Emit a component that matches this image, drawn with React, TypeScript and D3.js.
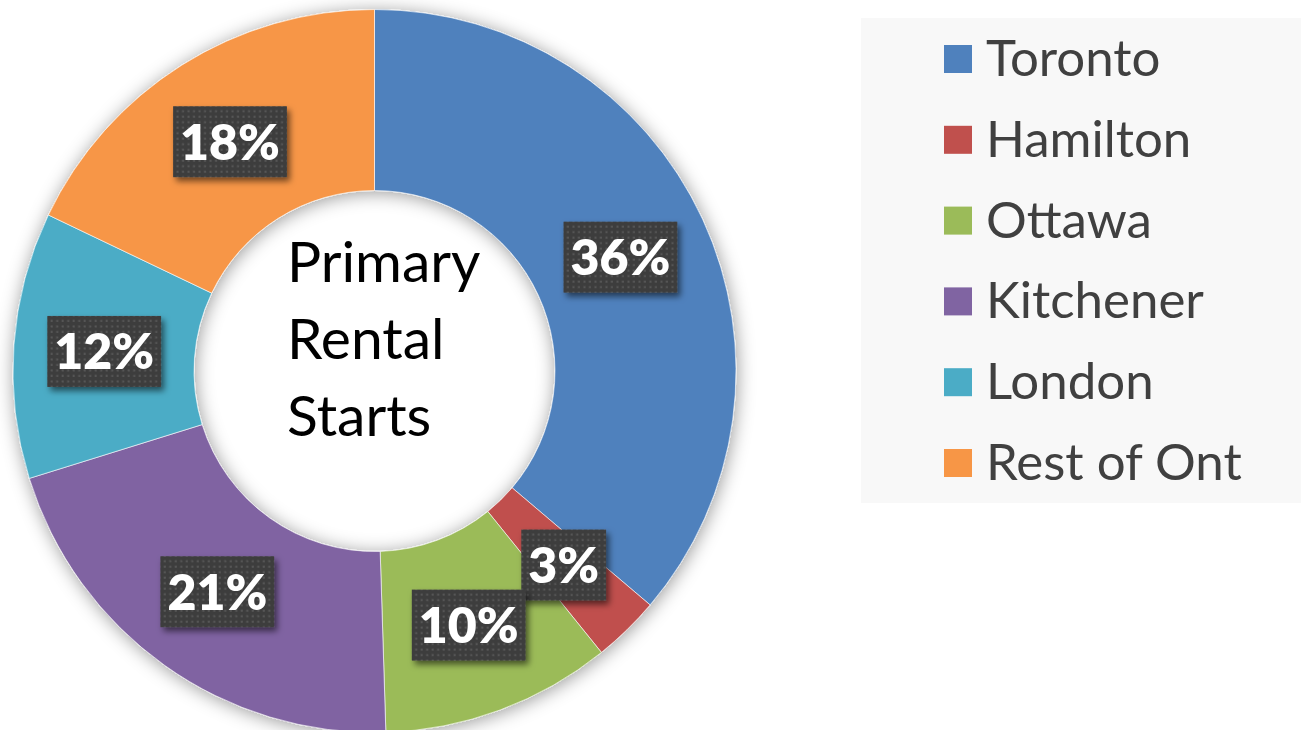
import React, { useEffect, useRef } from "react";
import * as d3 from "d3";

// shares of primary rental starts
const categories = ["Toronto", "Hamilton", "Ottawa", "Kitchener", "London", "Rest of Ont"];
const shares = [36.2, 3.0, 10.3, 20.7, 11.9, 17.9];
const labels = ["36%", "3%", "10%", "21%", "12%", "18%"];
const colors = ["#4F81BD", "#C0504D", "#9BBB59", "#8064A2", "#4BACC6", "#F79646"];
const centerLines = ["Primary", "Rental", "Starts"];

const App = () => {
  const ref = useRef<SVGSVGElement | null>(null);

  useEffect(() => {
    document.body.style.margin = "0";
    const svg = d3.select(ref.current);
    svg.selectAll("*").remove();

    const cx = 374.5;
    const cy = 371;
    const outerRadius = 361.5;
    const innerRadius = 180.5;

    const defs = svg.append("defs");

    const ringShadow = defs
      .append("filter")
      .attr("id", "ringShadow")
      .attr("x", "-20%")
      .attr("y", "-20%")
      .attr("width", "140%")
      .attr("height", "140%");
    ringShadow
      .append("feDropShadow")
      .attr("dx", 1)
      .attr("dy", 2)
      .attr("stdDeviation", 9)
      .attr("flood-color", "#000")
      .attr("flood-opacity", 0.4);

    const boxShadow = defs
      .append("filter")
      .attr("id", "boxShadow")
      .attr("x", "-30%")
      .attr("y", "-30%")
      .attr("width", "160%")
      .attr("height", "160%");
    boxShadow
      .append("feDropShadow")
      .attr("dx", 3)
      .attr("dy", 4)
      .attr("stdDeviation", 3)
      .attr("flood-color", "#000")
      .attr("flood-opacity", 0.55);

    const dots = defs
      .append("pattern")
      .attr("id", "dots")
      .attr("patternUnits", "userSpaceOnUse")
      .attr("width", 5.5)
      .attr("height", 5.5);
    dots.append("rect").attr("width", 5.5).attr("height", 5.5).attr("fill", "#3d3d3d");
    dots
      .append("rect")
      .attr("x", 1.5)
      .attr("y", 1.5)
      .attr("width", 2)
      .attr("height", 2)
      .attr("fill", "#585858");

    const pie = d3
      .pie<number>()
      .value(d => d)
      .sort(null)
      .startAngle(0)
      .endAngle(2 * Math.PI);

    const arc = d3
      .arc<d3.PieArcDatum<number>>()
      .innerRadius(innerRadius)
      .outerRadius(outerRadius);

    const arcs = pie(shares);

    const g = svg.append("g").attr("transform", `translate(${cx},${cy})`);

    g.append("g")
      .attr("filter", "url(#ringShadow)")
      .selectAll("path")
      .data(arcs)
      .enter()
      .append("path")
      .attr("d", arc)
      .attr("fill", (d, i) => colors[i])
      .attr("stroke", "rgba(255,255,255,0.6)")
      .attr("stroke-width", 1);

    // centre title
    const title = svg
      .append("text")
      .attr("x", 287)
      .attr("font-family", "Lato, 'Open Sans', sans-serif")
      .attr("font-size", 57)
      .attr("fill", "#000");
    centerLines.forEach((line, i) => {
      title
        .append("tspan")
        .attr("x", 287)
        .attr("y", 282 + i * 77)
        .text(line);
    });

    // percent labels in dark boxes
    arcs.forEach((d, i) => {
      const [lx, ly] = arc.centroid(d);
      const lab = g.append("g").attr("transform", `translate(${lx},${ly})`);
      const rect = lab.append("rect").attr("filter", "url(#boxShadow)").attr("fill", "url(#dots)");
      const txt = lab
        .append("text")
        .attr("text-anchor", "middle")
        .attr("dy", "0.36em")
        .attr("font-family", "Lato, 'Open Sans', sans-serif")
        .attr("font-weight", 800)
        .attr("font-size", 50)
        .attr("fill", "#fff")
        .text(labels[i]);
      const bb = (txt.node() as SVGTextElement).getBBox();
      const w = bb.width + 14;
      const h = 71;
      rect
        .attr("x", -w / 2)
        .attr("y", -h / 2)
        .attr("width", w)
        .attr("height", h);
    });

    // legend
    const legend = svg.append("g");
    legend
      .append("rect")
      .attr("x", 861)
      .attr("y", 18)
      .attr("width", 440)
      .attr("height", 485)
      .attr("fill", "#f8f8f8");

    const ly = d3
      .scalePoint<string>()
      .domain(categories)
      .range([59, 463]);

    categories.forEach((c, i) => {
      const y = ly(c) as number;
      legend
        .append("rect")
        .attr("x", 944)
        .attr("y", y - 14)
        .attr("width", 28)
        .attr("height", 28)
        .attr("fill", colors[i]);
      legend
        .append("text")
        .attr("x", 986)
        .attr("y", y + 17)
        .attr("font-family", "Lato, 'Open Sans', sans-serif")
        .attr("font-size", 51)
        .attr("fill", "#404040")
        .text(c);
    });
  }, []);

  return <svg ref={ref} width={1301} height={730} style={{ display: "block" }} />;
};

export default App;
